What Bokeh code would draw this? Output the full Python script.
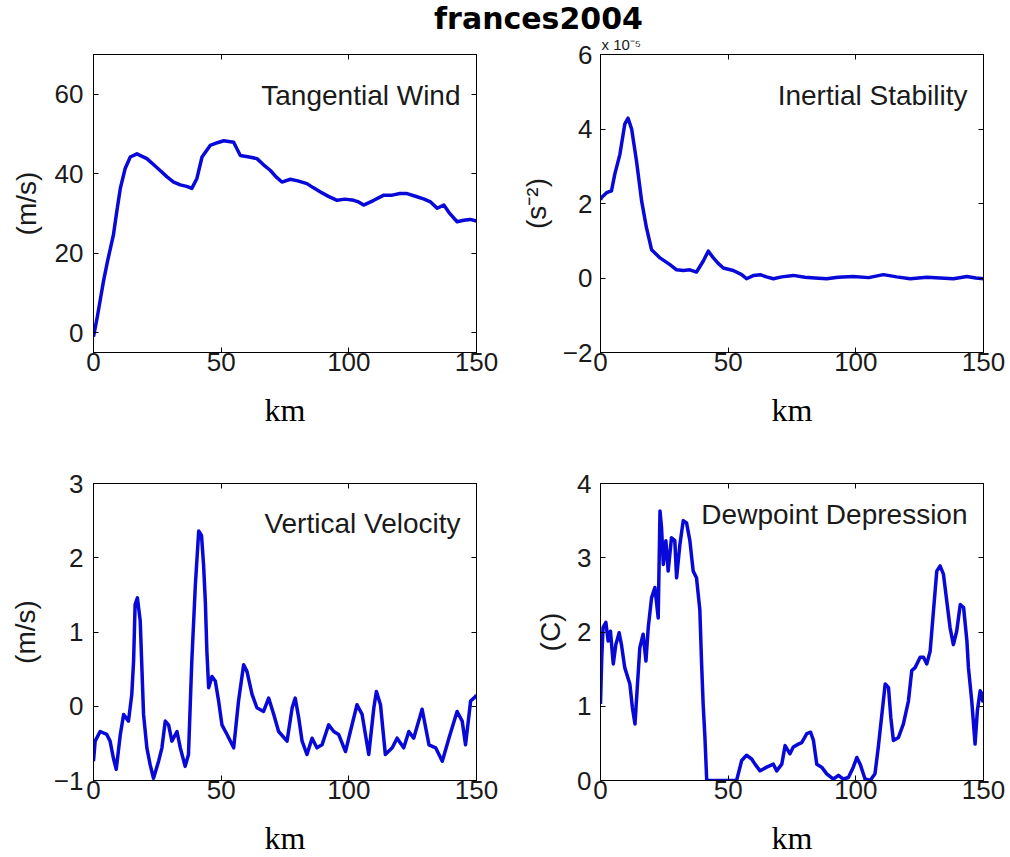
from bokeh.plotting import figure
from bokeh.models import Range1d, LinearAxis, FixedTicker, Label, CustomLabelingPolicy
from bokeh.layouts import column, row
from bokeh.embed import file_html
from bokeh.resources import INLINE

# ---------------- data ----------------
title_text = "frances2004"
x_ticks = [0, 50, 100, 150]

tw_km = [0, 1.5, 3.9, 5.5, 7.8, 9, 10.5, 12.4, 14.4, 17, 20.9, 23.5, 26.1, 28.8, 31.4, 34, 36.5,
         38.5, 40.5, 42.5, 45.7, 48.5, 51, 54.9, 57.5, 61, 64, 66.5, 69.3, 71.5, 73.8, 77.1, 80,
         83.6, 86, 88.9, 92, 95.4, 98.5, 101.9, 103.8, 105.8, 109.8, 113.7, 117, 120, 122.8,
         126.7, 129.5, 132, 134.6, 137.2, 139.5, 142.4, 145, 147.5, 150]
tw_val = [-1, 4, 12.9, 18, 24.6, 30, 36.3, 41.3, 44.2, 45, 43.8, 42.3, 40.8, 39.2, 37.9, 37.2, 36.8,
          36.3, 38.8, 44.2, 47.1, 47.8, 48.3, 47.9, 44.6, 44.2, 43.8, 42.3, 40.8, 39.2, 37.9, 38.6,
          38.2, 37.5, 36.5, 35.4, 34.3, 33.3, 33.6, 33.3, 32.9, 32.1, 33.3, 34.6, 34.6, 35, 35,
          34.2, 33.6, 32.9, 31.3, 32.1, 30.0, 27.9, 28.3, 28.5, 28.1]
tw_ticks = [0, 20, 40, 60]

is_km = [0, 0.4, 2.4, 4.3, 5.6, 7.6, 9.5, 10.8, 12.2, 14.1, 16.1, 18, 20, 23.3, 27.2, 29.8, 32.5,
         35, 37.6, 40.2, 42.2, 44.2, 46, 48.1, 52, 55.3, 57.2, 60, 62.5, 65, 67.7, 71, 75.5, 80,
         84, 88.6, 93, 99, 105, 110.8, 116, 121.3, 127.8, 133, 138.2, 143.5, 147, 150]
is_val = [2.1, 2.16, 2.29, 2.34, 2.79, 3.32, 4.13, 4.29, 4.0, 3.14, 2.07, 1.35, 0.76, 0.54, 0.36,
          0.22, 0.2, 0.22, 0.16, 0.45, 0.72, 0.54, 0.4, 0.27, 0.2, 0.09, -0.02, 0.07, 0.09, 0.03,
          -0.02, 0.03, 0.07, 0.02, 0.0, -0.02, 0.02, 0.04, 0.01, 0.09, 0.03, -0.02, 0.02, 0.0,
          -0.02, 0.04, 0.0, -0.02]
is_ticks = [-2, 0, 2, 4, 6]
is_multiplier = "x 10\u207b\u2075"

vv_km = [0, 0.65, 2.6, 5.2, 6.5, 7.8, 8.9, 10.5, 11.8, 13.7, 15, 15.7, 16.3, 17.2, 18.3, 19, 19.6,
         20.9, 22.2, 23.5, 25.5, 26.8, 28.1, 29.4, 30.7, 32.7, 34, 35.9, 37.2, 38.5, 39.9, 41.2,
         42.3, 43.1, 43.8, 44.4, 45.1, 46.4, 47.7, 49, 50.3, 52.3, 54.9, 56.8, 58.8, 60.1, 62.1,
         64, 66.6, 68.6, 70.6, 72.5, 75.8, 77.8, 79, 80.4, 81.7, 83.6, 85.6, 87.5, 89.5, 92.1,
         94.1, 96, 98.7, 100.6, 103.2, 105.2, 107.8, 109.8, 110.8, 112.4, 114.3, 117, 118.9,
         121.5, 123.5, 125.4, 128.7, 131.4, 134, 136.6, 139.2, 142.4, 144.4, 145.7, 147.7,
         149.6, 150]
vv_val = [-0.74, -0.47, -0.34, -0.38, -0.47, -0.70, -0.85, -0.38, -0.11, -0.2, 0.16, 0.61, 1.37,
          1.46, 1.15, 0.47, -0.11, -0.56, -0.79, -0.97, -0.74, -0.56, -0.2, -0.25, -0.47, -0.34,
          -0.56, -0.81, -0.65, 0.61, 1.64, 2.36, 2.3, 1.91, 1.41, 0.74, 0.25, 0.4, 0.34, 0.07,
          -0.25, -0.38, -0.56, 0.07, 0.56, 0.47, 0.16, -0.02, -0.07, 0.11, -0.11, -0.34, -0.47,
          -0.02, 0.11, -0.16, -0.47, -0.65, -0.43, -0.56, -0.52, -0.25, -0.34, -0.38, -0.61,
          -0.34, 0.02, -0.11, -0.65, -0.02, 0.2, 0.02, -0.65, -0.56, -0.43, -0.56, -0.34, -0.43,
          -0.04, -0.52, -0.56, -0.74, -0.43, -0.07, -0.2, -0.52, 0.07, 0.13, 0.15]
vv_ticks = [-1, 0, 1, 2, 3]

dd_km = [0, 0.5, 1, 2.1, 3, 3.9, 5, 6, 7.3, 8.2, 9.5, 11.5, 12.5, 13.5, 14.4, 15.4, 16.7, 17.8,
         18.7, 20, 21.3, 22.6, 23.3, 23.9, 24.6, 25.6, 26.5, 27.8, 29.1, 29.8, 31.1, 32.4, 33.7,
         35, 36.3, 37.6, 38.9, 39.6, 40.2, 40.9, 41.6, 53.3, 55.3, 57.2, 59.2, 60.5, 62.5, 65.1,
         67.7, 69, 71, 72.3, 74.2, 75.5, 77.5, 78.8, 80.8, 82.3, 83.4, 84.7, 86.6, 88.6, 91.2,
         93.2, 95.1, 97.1, 99, 100.4, 101.7, 103.6, 105.6, 107.5, 108.8, 110.2, 111.5, 112.8,
         113.7, 114.7, 116.7, 118.6, 120.6, 121.9, 123.2, 125.2, 126.5, 127.8, 129.1, 130.4,
         131.7, 133, 134.3, 135.6, 136.9, 138.2, 139.5, 140.9, 142.2, 143.5, 144.1, 145.4,
         146.7, 147.6, 148.7, 149.7, 150]
dd_val = [1.03, 1.66, 2.06, 2.13, 1.88, 2.01, 1.57, 1.83, 1.99, 1.83, 1.52, 1.3, 0.98, 0.76, 1.25,
          1.79, 1.97, 1.61, 2.06, 2.46, 2.6, 2.19, 3.63, 3.41, 2.91, 3.23, 2.82, 3.27, 3.23, 2.73,
          3.18, 3.5, 3.47, 3.23, 2.82, 2.73, 2.3, 1.57, 1.03, 0.58, 0, 0, 0.27, 0.34, 0.29, 0.22,
          0.13, 0.18, 0.22, 0.13, 0.22, 0.47, 0.36, 0.45, 0.49, 0.51, 0.63, 0.65, 0.54, 0.22, 0.18,
          0.09, 0.02, 0.07, 0.02, 0.04, 0.18, 0.31, 0.22, 0.02, 0, 0.09, 0.45, 0.89, 1.3, 1.25,
          0.85, 0.54, 0.58, 0.76, 1.07, 1.48, 1.52, 1.66, 1.66, 1.57, 1.74, 2.28, 2.82, 2.89,
          2.78, 2.42, 2.06, 1.83, 2.01, 2.37, 2.33, 1.88, 1.52, 1.07, 0.49, 0.94, 1.21, 1.07, 1.2]
dd_ticks = [0, 1, 2, 3, 4]

# ---------------- styling ----------------
LINE_COLOR = "#0808d8"
TICK_FONT = "Liberation Sans"
TEXT_FONT = "Liberation Sans"
SERIF = "Liberation Serif"

NO_LABELS = """
for (let i = 0; i < indices.size; i++) {
    if (indices.unset) { indices.unset(i) } else { indices.set(i, false) }
}
return indices
"""


def style_axis(ax, ticks, show_labels=True, label_standoff=8):
    ax.ticker = FixedTicker(ticks=ticks)
    ax.major_tick_in = 5
    ax.major_tick_out = 0
    ax.minor_tick_in = 0
    ax.minor_tick_out = 0
    ax.axis_line_color = "black"
    ax.major_tick_line_color = "black"
    ax.major_label_text_font = TICK_FONT
    ax.major_label_text_color = "#1a1a1a"
    if show_labels:
        ax.major_label_text_font_size = "26px"
        ax.major_label_standoff = label_standoff
    else:
        ax.major_label_text_font_size = "1px"
        ax.major_label_standoff = 0
        ax.major_label_policy = CustomLabelingPolicy(code=NO_LABELS)


def panel(kms, vals, yrange, yticks, inner_text, ylabel, borders, frame_h,
          ytick_standoff, ylabel_standoff, text_offset):
    left, right, top, bottom = borders
    p = figure(frame_width=383, frame_height=frame_h,
               x_range=Range1d(0, 150), y_range=Range1d(*yrange),
               output_backend="svg", toolbar_location=None,
               min_border_left=left, min_border_right=right,
               min_border_top=top, min_border_bottom=bottom)
    p.xgrid.visible = False
    p.ygrid.visible = False
    p.outline_line_color = "black"
    p.background_fill_color = "white"
    p.border_fill_color = "white"

    xa = p.xaxis[0]
    style_axis(xa, x_ticks, True, 0)
    xa.axis_label = "km"
    xa.axis_label_text_font = SERIF
    xa.axis_label_text_font_size = "32px"
    xa.axis_label_text_font_style = "normal"
    xa.axis_label_text_color = "black"
    xa.axis_label_standoff = 18

    ya = p.yaxis[0]
    style_axis(ya, yticks, True, ytick_standoff)
    ya.axis_label = ylabel
    ya.axis_label_text_font = TEXT_FONT
    ya.axis_label_text_font_size = "28px"
    ya.axis_label_text_font_style = "normal"
    ya.axis_label_text_color = "#1a1a1a"
    ya.axis_label_standoff = ylabel_standoff

    top_ax = LinearAxis()
    style_axis(top_ax, x_ticks, False)
    p.add_layout(top_ax, "above")
    right_ax = LinearAxis()
    style_axis(right_ax, yticks, False)
    p.add_layout(right_ax, "right")

    p.line(kms, vals, line_color=LINE_COLOR, line_width=3.5, line_join="round")

    p.add_layout(Label(x=150, y=yrange[1], x_offset=-16, y_offset=-text_offset,
                       text=inner_text, text_align="right", text_baseline="alphabetic",
                       text_font=TEXT_FONT, text_font_size="28px", text_color="#1a1a1a"))
    return p


STRIP_H = 36
# borders: left, right, top, bottom
p_tw = panel(tw_km, tw_val, (-5, 70), tw_ticks, "Tangential Wind", "(m/s)",
             (93, 29, 54 - STRIP_H, 88), 298, 10, 10, 41)
p_is = panel(is_km, is_val, (-2, 6), is_ticks, "Inertial Stability", "(s\u207b\u00b2)",
             (95, 27, 54 - STRIP_H, 88), 298, 8, 8, 41)
p_vv = panel(vv_km, vv_val, (-1, 3), vv_ticks, "Vertical Velocity", "(m/s)",
             (93, 29, 43, 77), 297, 10, 10, 40)
p_dd = panel(dd_km, dd_val, (0, 4), dd_ticks, "Dewpoint Depression", "(C)",
             (95, 27, 43, 77), 297, 9, 8, 31)

# the "x 10^-5" multiplier above the inertial-stability axis, as that panel's title
p_is.title.text = is_multiplier
p_is.title.align = "left"
p_is.title.offset = 1
p_is.title.standoff = -5
p_is.title.text_font = TEXT_FONT
p_is.title.text_font_size = "15px"
p_is.title.text_font_style = "normal"
p_is.title.text_color = "#1a1a1a"

# title strip (y axis runs downward, in page pixels)
strip = figure(frame_width=1010, frame_height=STRIP_H, x_range=Range1d(0, 1010),
               y_range=Range1d(STRIP_H, 0), x_axis_type=None, y_axis_type=None,
               output_backend="svg", toolbar_location=None,
               min_border=0, outline_line_color=None)
strip.xgrid.visible = False
strip.ygrid.visible = False
strip.add_layout(Label(x=538, y=0, text=title_text, text_align="center",
                       text_baseline="top", text_font="DejaVu Sans",
                       text_font_size="30px", text_font_style="bold", text_color="black"))

layout = column(strip, row(p_tw, p_is), row(p_vv, p_dd))
layout.spacing = 0

open("out.html", "w").write(file_html(layout, INLINE))
